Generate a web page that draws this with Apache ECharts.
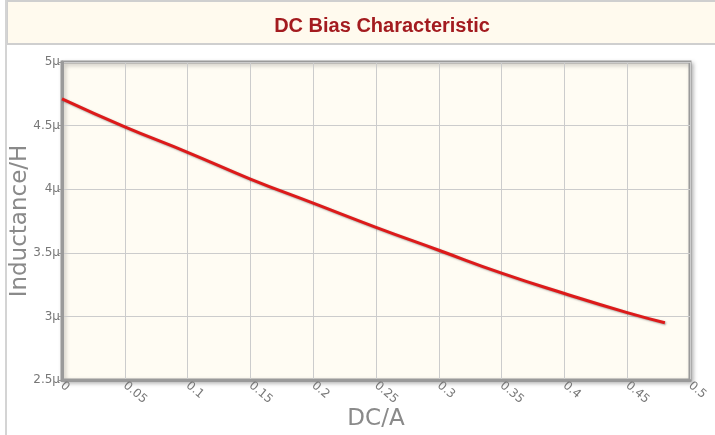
<!DOCTYPE html>
<html>
<head>
<meta charset="utf-8">
<script src="https://cdn.jsdelivr.net/npm/echarts@6/dist/echarts.min.js"></script>
<style>
  html, body { margin: 0; padding: 0; background: #fff; }
  #chart { width: 715px; height: 435px; }
</style>
</head>
<body>
<div id="chart"></div>
<script>
// DC current (A) and inductance (µH)
var current = [0, 0.05, 0.1, 0.15, 0.2, 0.25, 0.3, 0.35, 0.4, 0.45, 0.48];
var inductance = [4.71, 4.49, 4.29, 4.08, 3.89, 3.70, 3.52, 3.34, 3.18, 3.03, 2.95];

var chart = echarts.init(document.getElementById('chart'));

var points = current.map(function (x, i) { return [x, inductance[i]]; });

chart.setOption({
  animation: false,
  title: {
    text: 'DC Bias Characteristic',
    left: 377,
    top: 11,
    textAlign: 'center',
    textStyle: {
      color: '#a31b1f',
      fontSize: 20,
      fontWeight: 'bold',
      fontFamily: 'Liberation Sans'
    }
  },
  graphic: [
    {
      type: 'rect',
      z: -1,
      shape: { x: 7, y: 1, width: 712, height: 43 },
      style: { fill: '#fffaee', stroke: '#cfcfcf', lineWidth: 2 }
    },
    {
      type: 'line',
      shape: { x1: 6, y1: 0, x2: 6, y2: 435 },
      style: { stroke: '#d4d4d4', lineWidth: 2 }
    }
  ],
  grid: {
    left: 62,
    top: 62,
    right: 25,
    bottom: 55,
    containLabel: false,
    outerBoundsMode: 'none',
    show: true,
    backgroundColor: '#fffcf3',
    borderColor: '#9a9a9a',
    borderWidth: 3,
    shadowColor: 'rgba(0,0,0,0.25)',
    shadowBlur: 4,
    shadowOffsetX: 2,
    shadowOffsetY: 2
  },
  xAxis: {
    type: 'value',
    min: 0,
    max: 0.5,
    interval: 0.05,
    name: 'DC/A',
    nameLocation: 'middle',
    nameMoveOverlap: false,
    nameGap: 28,
    nameTextStyle: { color: '#8a8a8a', fontSize: 23, fontFamily: 'DejaVu Sans' },
    axisLine: { show: true, lineStyle: { color: '#9a9a9a', width: 3 } },
    axisTick: { show: false },
    axisLabel: {
      color: '#777',
      fontSize: 12,
      rotate: -40,
      margin: 4,
      fontFamily: 'DejaVu Sans'
    },
    splitLine: { lineStyle: { color: '#cccccc', width: 1 } }
  },
  yAxis: {
    type: 'value',
    min: 2.5,
    max: 5,
    interval: 0.5,
    name: 'Inductance/H',
    nameLocation: 'middle',
    nameMoveOverlap: false,
    nameGap: 30,
    nameTextStyle: { color: '#8a8a8a', fontSize: 23, fontFamily: 'DejaVu Sans' },
    axisLine: { show: true, lineStyle: { color: '#9a9a9a', width: 3 } },
    axisTick: { show: true, length: 3, lineStyle: { color: '#999' } },
    axisLabel: {
      color: '#777',
      fontSize: 12,
      margin: 2,
      fontFamily: 'DejaVu Sans',
      formatter: function (v) { return v + 'µ'; }
    },
    splitLine: { lineStyle: { color: '#cccccc', width: 1 } }
  },
  series: [{
    type: 'line',
    data: points,
    smooth: true,
    symbol: 'none',
    lineStyle: {
      color: '#dd1a1a',
      width: 3,
      shadowColor: 'rgba(0,0,0,0.35)',
      shadowBlur: 2,
      shadowOffsetX: 1,
      shadowOffsetY: 1
    }
  }]
});
</script>
</body>
</html>
